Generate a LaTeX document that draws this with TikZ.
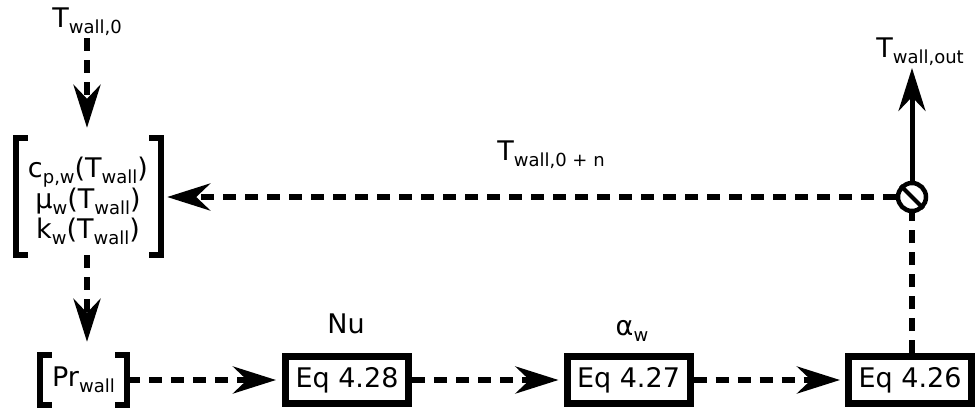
\documentclass[tikz,border=0pt]{standalone}
\usepackage{fontspec}
\setmainfont{DejaVu Sans}
\usetikzlibrary{arrows.meta}
\newcommand\sbs[1]{\raisebox{-6pt}{\fontsize{18}{18}\selectfont #1}}
\begin{document}
\begin{tikzpicture}[x=1pt,y=-1pt,
  font=\fontsize{27}{34}\selectfont,
  tip/.style={-{Stealth[length=43pt,width=27pt,inset=14pt]}},
  flow/.style={tip, line width=6pt, dash pattern=on 13pt off 9pt},
  plain/.style={line width=6pt, dash pattern=on 13pt off 9pt},
  solidflow/.style={tip, line width=5pt},
  eqbox/.style={draw, line width=7pt, minimum width=123pt, minimum height=47pt, inner sep=0pt},
  lbl/.style={inner sep=0pt, anchor=base},
  brk/.style={line width=6.5pt, line join=miter}]
\useasboundingbox (0,0) rectangle (980,410);

% labels
\node[lbl] (t0) at (87,27) {T\sbs{wall,0}};
\node[lbl] (tn) at (551,160) {T\sbs{wall,0 + n}};
\node[lbl] (tout) at (920,57) {T\sbs{wall,out}};
\node[lbl] (nu) at (346,333) {Nu};
\node[lbl] (aw) at (632,335) {α\sbs{w}};
\coordinate (toutend) at (912,68);

% property groups
\node[minimum width=145pt, minimum height=117pt, inner sep=0pt] (props) at (88.5,196.5) {};
\node[inner sep=0pt, align=center, font=\fontsize{27}{29.5}\selectfont] (proptext) at (88,201)
  {c\sbs{p,w}(T\sbs{wall})\\ μ\sbs{w}(T\sbs{wall})\\ k\sbs{w}(T\sbs{wall})};
\node[minimum width=87pt, minimum height=50pt, inner sep=0pt] (pr) at (83.5,380) {Pr\sbs{wall}};

\draw[brk] ([xshift=12pt]props.north west) -- (props.north west) -- (props.south west) -- ([xshift=12pt]props.south west);
\draw[brk] ([xshift=-12pt]props.north east) -- (props.north east) -- (props.south east) -- ([xshift=-12pt]props.south east);
\draw[brk] ([xshift=12pt]pr.north west) -- (pr.north west) -- (pr.south west) -- ([xshift=12pt]pr.south west);
\draw[brk] ([xshift=-12pt]pr.north east) -- (pr.north east) -- (pr.south east) -- ([xshift=-12pt]pr.south east);

% equation boxes
\node[eqbox] (eq28) at (347,380) {Eq 4.28};
\node[eqbox] (eq27) at (628.5,380) {Eq 4.27};
\node[eqbox] (eq26) at (910,380) {Eq 4.26};

% decision circle
\node[circle, draw, line width=4.5pt, minimum size=28pt, inner sep=0pt] (circ) at (912,197) {};
\draw[line width=4pt] (circ.north west) -- (circ.south east);

% connectors
\draw[flow, shorten <=3pt, shorten >=10pt] (t0.south) -- (props.north -| t0.south);
\draw[flow, shorten >=6pt] (circ.west) -- (circ.west -| props.east);
\draw[flow, shorten >=13pt] (props.south -| t0.south) -- (pr.north -| t0.south);
\draw[flow, shorten >=6pt] (pr.east) -- (eq28.west);
\draw[flow, shorten >=5pt] (eq28.east) -- (eq27.west);
\draw[flow, shorten >=5pt] (eq27.east) -- (eq26.west);
\draw[plain] (eq26.north -| circ.south) -- (circ.south);
\draw[solidflow] (circ.north) -- (toutend);
\end{tikzpicture}
\end{document}
